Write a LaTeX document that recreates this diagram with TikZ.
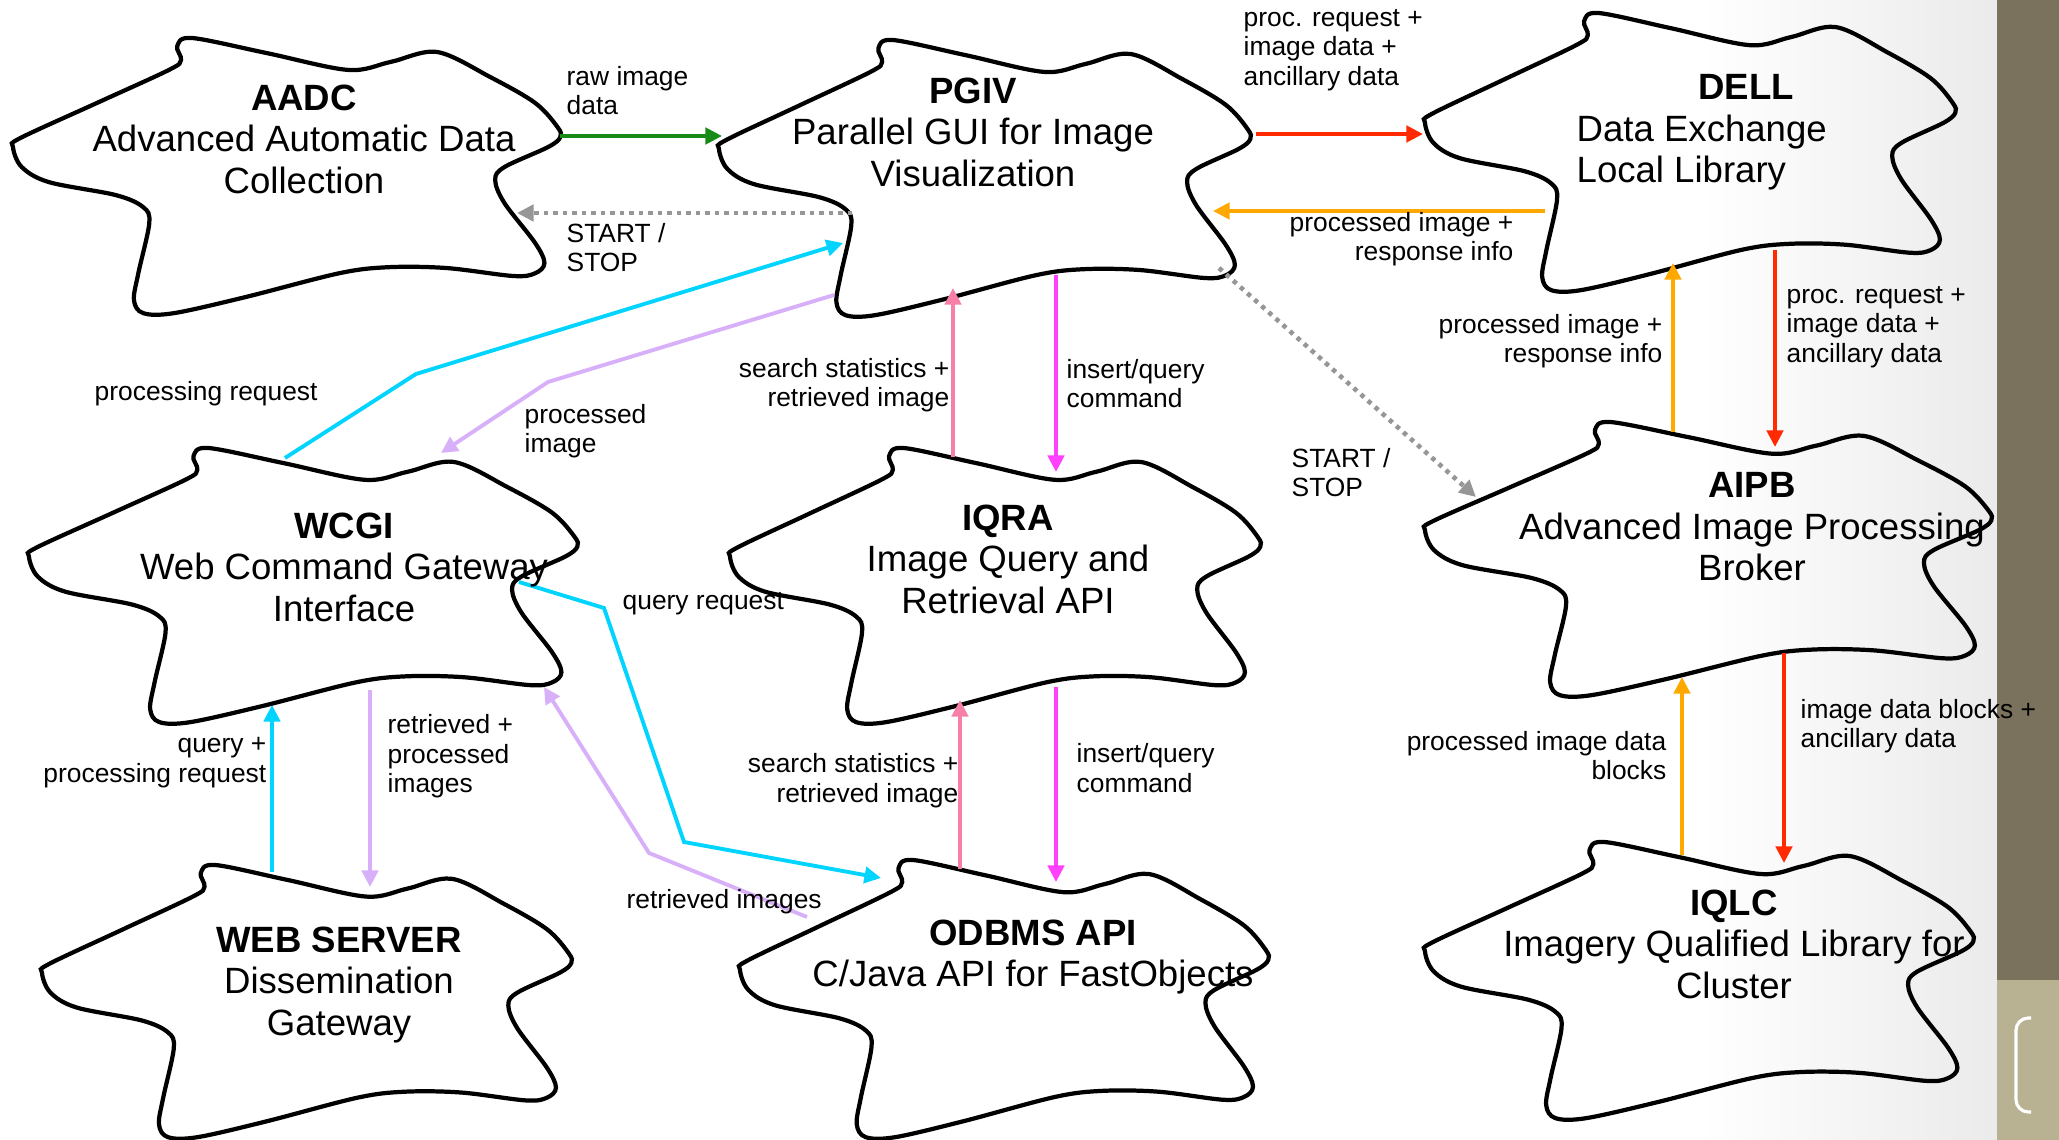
\documentclass[tikz,border=0pt]{standalone}
\usepackage{fontspec}
\setmainfont{Liberation Sans}
\usetikzlibrary{arrows.meta}

\definecolor{rawgreen}{RGB}{24,138,24}
\definecolor{reqred}{RGB}{255,42,0}
\definecolor{respamber}{RGB}{255,168,0}
\definecolor{cmdcyan}{RGB}{0,212,255}
\definecolor{imglilac}{RGB}{216,176,250}
\definecolor{statpink}{RGB}{246,128,168}
\definecolor{cmdmagenta}{RGB}{255,64,255}
\definecolor{ctrlgray}{RGB}{150,150,150}
\definecolor{banddark}{RGB}{122,114,92}
\definecolor{bandlight}{RGB}{184,178,146}

\begin{document}
\begin{tikzpicture}[
    x=0.01cm, y=-0.01cm,
    blobline/.style={draw=black, line width=1.2pt},
    blob/.pic={
        \draw[blobline] plot[smooth cycle, tension=0.55] coordinates {
            (0.327,0.000) (0.464,0.055) (0.612,0.116) (0.690,0.087)
            (0.775,0.051) (0.872,0.142) (0.954,0.236) (0.995,0.324)
            (1.000,0.360) (0.978,0.396) (0.898,0.469) (0.881,0.516)
            (0.898,0.600) (0.954,0.745) (0.971,0.818) (0.954,0.855)
            (0.914,0.865) (0.792,0.836) (0.686,0.833) (0.596,0.855)
            (0.424,0.942) (0.294,1.000) (0.238,1.000) (0.221,0.953)
            (0.229,0.855) (0.249,0.673) (0.238,0.615) (0.188,0.571)
            (0.066,0.524) (0.016,0.469) (0.000,0.396) (0.013,0.364)
            (0.149,0.240) (0.285,0.116) (0.307,0.080) (0.300,0.030)};
    },
    module/.style={font=\fontsize{10.4}{11.8}\selectfont, align=center,
        inner sep=0pt, anchor=north},
    lbl/.style={font=\fontsize{7.5}{8.3}\selectfont, inner sep=0pt},
    lblL/.style={lbl, align=left, anchor=north west},
    lblR/.style={lbl, align=right, anchor=north east},
    flow/.style={-{Triangle[length=4.7pt, width=4.6pt]}, line width=1.1pt},
    ctrl/.style={flow, line width=1.3pt, draw=ctrlgray, dash pattern=on 1.25pt off 1.45pt}
]

% ============ Slide background ============
\useasboundingbox (0,0) rectangle (2059,1140);
\fill[white] (0,0) rectangle (2059,1140);
\shade[left color=white, right color=black!8] (1700,0) rectangle (1997,1140);
\fill[banddark] (1997,0) rectangle (2059,980);
\fill[bandlight] (1997,980) rectangle (2059,1140);
\draw[white, line width=0.9pt, rounded corners=3.5pt]
    (2031,1018) -- (2016,1018) -- (2016,1112) -- (2031,1112);

% ============ Blobs ============
\path (13,38) pic[x=5.47cm, y=-2.75cm] {blob};
\path (719,40) pic[x=5.31cm, y=-2.75cm] {blob};
\path (1425,13) pic[x=5.30cm, y=-2.77cm] {blob};
\path (29,448) pic[x=5.48cm, y=-2.74cm] {blob};
\path (730,448) pic[x=5.30cm, y=-2.74cm] {blob};
\path (1425,422) pic[x=5.66cm, y=-2.73cm] {blob};
\path (42,865) pic[x=5.29cm, y=-2.72cm] {blob};
\path (740,860) pic[x=5.28cm, y=-2.77cm] {blob};
\path (1425,842) pic[x=5.48cm, y=-2.76cm] {blob};

% ============ Connector ends ============
\coordinate (aadc-out) at (560,136);
\coordinate (aadc-stop) at (517,213);
\coordinate (pgiv-in) at (722,136);
\coordinate (pgiv-stop) at (852,213);
\coordinate (pgiv-req) at (1256,134);
\coordinate (pgiv-resp) at (1213,211);
\coordinate (pgiv-stop2) at (1219,268);
\coordinate (pgiv-proc) at (843,243);
\coordinate (pgiv-img) at (834,295);
\coordinate (pgiv-stat) at (953,288);
\coordinate (pgiv-cmd) at (1056,275);
\coordinate (dell-req) at (1423,134);
\coordinate (dell-resp) at (1545,211);
\coordinate (dell-resp2) at (1673,263);
\coordinate (dell-req2) at (1775,250);
\coordinate (wcgi-proc) at (285,458);
\coordinate (wcgi-img) at (441,453);
\coordinate (wcgi-qry) at (272,705);
\coordinate (wcgi-out) at (370,690);
\coordinate (wcgi-qreq) at (519,582);
\coordinate (wcgi-ret) at (544,687);
\coordinate (iqra-stat) at (953,457);
\coordinate (iqra-cmd) at (1056,472);
\coordinate (iqra-stat2) at (960,700);
\coordinate (iqra-cmd2) at (1056,687);
\coordinate (aipb-stop) at (1476,497);
\coordinate (aipb-resp) at (1673,432);
\coordinate (aipb-req) at (1775,447);
\coordinate (aipb-blk) at (1682,677);
\coordinate (aipb-blk2) at (1784,653);
\coordinate (web-qry) at (272,872);
\coordinate (web-in) at (370,887);
\coordinate (odbms-qreq) at (881,878);
\coordinate (odbms-ret) at (807,917);
\coordinate (odbms-stat) at (960,869);
\coordinate (odbms-cmd) at (1056,882);
\coordinate (iqlc-blk) at (1682,855);
\coordinate (iqlc-in) at (1784,863);
\coordinate (bend-proc) at (416,374);
\coordinate (bend-img) at (548,382);
\coordinate (bend-qreq1) at (604,608);
\coordinate (bend-qreq2) at (684,842);
\coordinate (bend-ret) at (649,853);

% ============ Flow ============
\draw[flow, draw=rawgreen] (aadc-out) -- (pgiv-in);
\draw[ctrl] (pgiv-stop) -- (aadc-stop);
\draw[flow, draw=reqred] (pgiv-req) -- (dell-req);
\draw[flow, draw=respamber] (dell-resp) -- (pgiv-resp);
\draw[ctrl] (pgiv-stop2) -- (aipb-stop);
\draw[flow, draw=cmdcyan] (wcgi-proc) -- (bend-proc) -- (pgiv-proc);
\draw[flow, draw=imglilac] (pgiv-img) -- (bend-img) -- (wcgi-img);
\draw[flow, draw=statpink] (iqra-stat) -- (pgiv-stat);
\draw[flow, draw=cmdmagenta] (pgiv-cmd) -- (iqra-cmd);
\draw[flow, draw=cmdcyan] (web-qry) -- (wcgi-qry);
\draw[flow, draw=imglilac] (wcgi-out) -- (web-in);
\draw[flow, draw=cmdcyan] (wcgi-qreq) -- (bend-qreq1) -- (bend-qreq2) -- (odbms-qreq);
\draw[flow, draw=imglilac] (odbms-ret) -- (bend-ret) -- (wcgi-ret);
\draw[flow, draw=statpink] (odbms-stat) -- (iqra-stat2);
\draw[flow, draw=cmdmagenta] (iqra-cmd2) -- (odbms-cmd);
\draw[flow, draw=respamber] (aipb-resp) -- (dell-resp2);
\draw[flow, draw=reqred] (dell-req2) -- (aipb-req);
\draw[flow, draw=respamber] (iqlc-blk) -- (aipb-blk);
\draw[flow, draw=reqred] (aipb-blk2) -- (iqlc-in);

% ============ Modules ============
\node[module] (aadc) at (304,84) {\textbf{AADC}\\Advanced Automatic Data\\Collection};
\node[module] (pgiv) at (973,77) {\textbf{PGIV}\\Parallel GUI for Image\\Visualization};
\node[module, align=left, anchor=north west] (dell) at (1576,74)
    {\hspace*{3.33em}\textbf{DELL}\\Data Exchange\\Local Library};
\node[module] (wcgi) at (344,512) {\textbf{WCGI}\\Web Command Gateway\\Interface};
\node[module] (iqra) at (1008,504) {\textbf{IQRA}\\Image Query and\\Retrieval API};
\node[module] (aipb) at (1752,472) {\textbf{AIPB}\\Advanced Image Processing\\Broker};
\node[module] (websrv) at (339,926) {\textbf{WEB SERVER}\\Dissemination\\Gateway};
\node[module] (odbms) at (1033,919) {\textbf{ODBMS API}\\C/Java API for FastObjects};
\node[module] (iqlc) at (1734,889) {\textbf{IQLC}\\Imagery Qualified Library for\\Cluster};

% ============ Labels ============
\node[lblL] (lblraw) at (566,66) {raw image\\data};
\node[lblL] (lblstop1) at (566,223) {START /\\STOP};
\node[lblL] (lblreq1) at (1243,9) {proc. request +\\image data +\\ancillary data};
\node[lblR] (lblresp1) at (1514,212) {processed image +\\response info};
\node[lblL] (lblstop2) at (1291,448) {START /\\STOP};
\node[lblL] (lblproc) at (94,381) {processing request};
\node[lblL] (lblimg) at (524,404) {processed\\image};
\node[lblR] (lblstat1) at (950,358) {search statistics +\\retrieved image};
\node[lblL] (lblcmd1) at (1066,359) {insert/query\\command};
\node[lblR] (lblqry) at (267,737) {query +\\processing request};
\node[lblL] (lblret1) at (387,714) {retrieved +\\processed\\images};
\node[lblL] (lblqreq) at (622,592) {query request};
\node[lblL] (lblret2) at (626,889) {retrieved images};
\node[lblR] (lblstat2) at (959,753) {search statistics +\\retrieved image};
\node[lblL] (lblcmd2) at (1076,743) {insert/query\\command};
\node[lblR] (lblresp2) at (1663,314) {processed image +\\response info};
\node[lblL] (lblreq2) at (1786,286) {proc. request +\\image data +\\ancillary data};
\node[lblR] (lblblk1) at (1667,731) {processed image data\\blocks};
\node[lblL] (lblblk2) at (1800,699) {image data blocks +\\ancillary data};

\end{tikzpicture}
\end{document}
